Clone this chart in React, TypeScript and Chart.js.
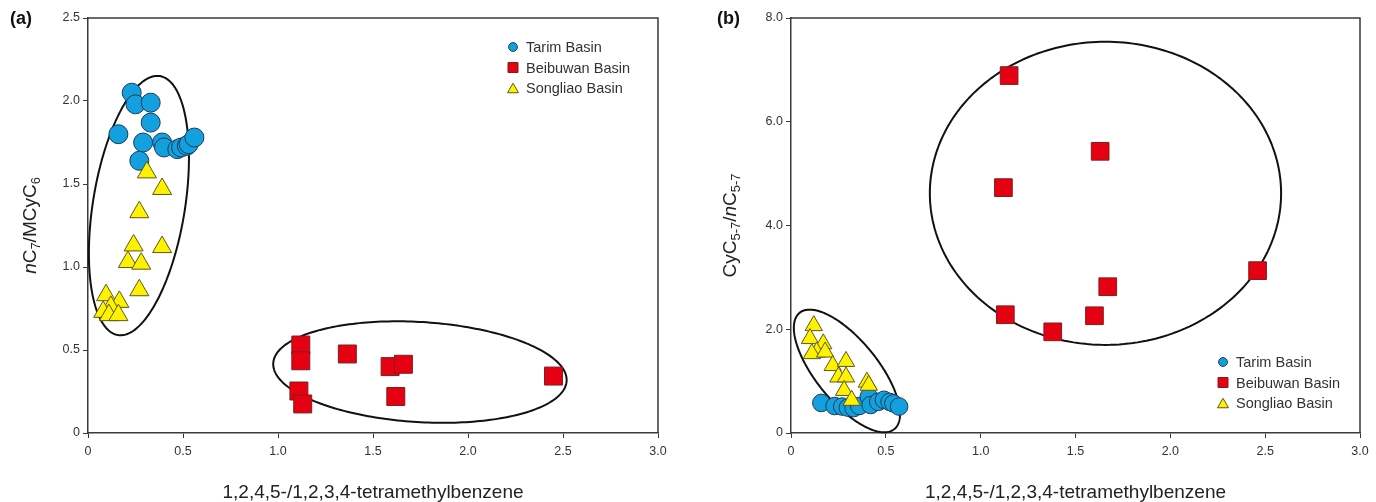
import React, { useEffect, useRef } from "react";
import { Chart, registerables } from "chart.js";

Chart.register(...registerables);

// ---------- data ----------
const seriesNames = ["Tarim Basin", "Beibuwan Basin", "Songliao Basin"];

const xTickValues = [0, 0.5, 1.0, 1.5, 2.0, 2.5, 3.0];
const yTickValuesA = [0, 0.5, 1.0, 1.5, 2.0, 2.5];
const yTickValuesB = [0, 2.0, 4.0, 6.0, 8.0];

const xAxisTitle = "1,2,4,5-/1,2,3,4-tetramethylbenzene";

// panel (a): nC7/MCyC6 vs tetramethylbenzene ratio
const tarimA: number[][] = [
  [0.23, 2.05], [0.25, 1.98], [0.33, 1.99], [0.33, 1.87], [0.16, 1.80],
  [0.29, 1.75], [0.39, 1.75], [0.40, 1.72], [0.27, 1.64], [0.47, 1.71],
  [0.49, 1.72], [0.52, 1.73], [0.53, 1.74], [0.56, 1.78],
];
const beibuwanA: number[][] = [
  [1.12, 0.53], [1.12, 0.435], [1.365, 0.476], [1.59, 0.40], [1.66, 0.414],
  [2.45, 0.343], [1.11, 0.253], [1.13, 0.175], [1.62, 0.22],
];
const songliaoA: number[][] = [
  [0.31, 1.57], [0.39, 1.47], [0.27, 1.33], [0.24, 1.13], [0.39, 1.12],
  [0.21, 1.03], [0.28, 1.02], [0.27, 0.86], [0.095, 0.83], [0.165, 0.79],
  [0.12, 0.76], [0.08, 0.73], [0.11, 0.71], [0.16, 0.71],
];

// panel (b): CyC5-7/nC5-7 vs tetramethylbenzene ratio
const tarimB: number[][] = [
  [0.16, 0.58], [0.23, 0.52], [0.27, 0.51], [0.30, 0.49], [0.33, 0.48],
  [0.36, 0.52], [0.41, 0.70], [0.42, 0.54], [0.46, 0.60], [0.49, 0.64],
  [0.52, 0.60], [0.54, 0.57], [0.57, 0.51],
];
const beibuwanB: number[][] = [
  [1.15, 6.89], [1.63, 5.43], [1.12, 4.73], [2.46, 3.13],
  [1.67, 2.82], [1.13, 2.28], [1.60, 2.26], [1.38, 1.95],
];
const songliaoB: number[][] = [
  [0.12, 2.07], [0.10, 1.82], [0.17, 1.72], [0.135, 1.56], [0.11, 1.53],
  [0.18, 1.56], [0.22, 1.30], [0.29, 1.38], [0.25, 1.08], [0.29, 1.08],
  [0.28, 0.82], [0.40, 0.98], [0.41, 0.92], [0.32, 0.63],
];

// grouping ellipses: centre and two conjugate semi-axis vectors, in data units
const ellipsesA = [
  { c: [0.268, 1.37], u: [0.1105, 0.78], v: [0.239, -0.0443] },
  { c: [1.747, 0.367], u: [0.772, -0.054], v: [-0.016, -0.301] },
];
const ellipsesB = [
  { c: [1.658, 4.62], u: [0.926, 0], v: [0, 2.922] },
  { c: [0.295, 1.196], u: [0.25, -1.12], v: [0.126, 0.378] },
];

// ---------- styles ----------
const FONT = '"Liberation Sans", Arial, Helvetica, sans-serif';
const INK = "#333333";
const AXIS = "#3a3a3a";
const styles = [
  { pointStyle: "circle", bg: "#12A0DE", border: "#1d3b57" },
  { pointStyle: "rect", bg: "#E50012", border: "#7d1f1f" },
  { pointStyle: "triangle", bg: "#FFF100", border: "#5a5a1c" },
];

type Seg = { t: string; italic?: boolean; sub?: boolean };
const yTitleA: Seg[] = [
  { t: "n", italic: true }, { t: "C" }, { t: "7", sub: true },
  { t: "/MCyC" }, { t: "6", sub: true },
];
const yTitleB: Seg[] = [
  { t: "CyC" }, { t: "5-7", sub: true }, { t: "/" },
  { t: "n", italic: true }, { t: "C" }, { t: "5-7", sub: true },
];

const fmt = (v: number) => (v === 0 ? "0" : v.toFixed(1));

type PanelCfg = {
  left: number;
  areaLeft: number;
  areaRight: number;
  yMax: number;
  yTicks: number[];
  series: number[][][];
  radii: number[];
  ellipses: { c: number[]; u: number[]; v: number[] }[];
  legend: [number, number];
  yTitle: Seg[];
  yTitleX: number;
  label: string;
  labelX: number;
};

const W = 688;
const H = 502;
const TOP = 18;
const BOTTOM = 433;

const panels: PanelCfg[] = [
  {
    left: 0, areaLeft: 88, areaRight: 658, yMax: 2.5, yTicks: yTickValuesA,
    series: [tarimA, beibuwanA, songliaoA], radii: [9.5, 12.7, 11],
    ellipses: ellipsesA, legend: [425, 29], yTitle: yTitleA, yTitleX: 36,
    label: "(a)", labelX: 10,
  },
  {
    left: 688, areaLeft: 103, areaRight: 672, yMax: 8, yTicks: yTickValuesB,
    series: [tarimB, beibuwanB, songliaoB], radii: [8.8, 12.5, 10],
    ellipses: ellipsesB, legend: [432, 344], yTitle: yTitleB, yTitleX: 48,
    label: "(b)", labelX: 29,
  },
];

function drawMarker(ctx: CanvasRenderingContext2D, style: string, x: number, y: number) {
  ctx.beginPath();
  if (style === "circle") {
    ctx.arc(x, y, 4.4, 0, Math.PI * 2);
  } else if (style === "rect") {
    ctx.rect(x - 5, y - 5, 10, 10);
  } else {
    const s = 11;
    const h = s * 0.866;
    ctx.moveTo(x, y - h / 2);
    ctx.lineTo(x + s / 2, y + h / 2);
    ctx.lineTo(x - s / 2, y + h / 2);
    ctx.closePath();
  }
  ctx.fill();
  ctx.stroke();
}

function drawRichVertical(ctx: CanvasRenderingContext2D, segs: Seg[], baseX: number, cy: number, size: number) {
  const subSize = size * 0.68;
  const fontOf = (s: Seg) =>
    `${s.italic ? "italic " : ""}${s.sub ? subSize : size}px ${FONT}`;
  let total = 0;
  segs.forEach((s) => {
    ctx.font = fontOf(s);
    total += ctx.measureText(s.t).width;
  });
  ctx.save();
  ctx.translate(baseX, cy);
  ctx.rotate(-Math.PI / 2);
  ctx.textBaseline = "alphabetic";
  ctx.textAlign = "left";
  ctx.fillStyle = "#222";
  let x = -total / 2;
  segs.forEach((s) => {
    ctx.font = fontOf(s);
    ctx.fillText(s.t, x, s.sub ? size * 0.22 : 0);
    x += ctx.measureText(s.t).width;
  });
  ctx.restore();
}

function Panel({ cfg }: { cfg: PanelCfg }) {
  const ref = useRef<HTMLCanvasElement>(null);
  useEffect(() => {
    const canvas = ref.current!;
    const decor = {
      id: "decor",
      beforeDatasetsDraw(chart: any) {
        const ctx = chart.ctx as CanvasRenderingContext2D;
        const xs = chart.scales.x;
        const ys = chart.scales.y;
        ctx.save();
        ctx.strokeStyle = "#111";
        ctx.lineWidth = 2;
        cfg.ellipses.forEach((e) => {
          ctx.beginPath();
          for (let i = 0; i <= 240; i++) {
            const t = (i / 240) * Math.PI * 2;
            const dx = e.c[0] + Math.cos(t) * e.u[0] + Math.sin(t) * e.v[0];
            const dy = e.c[1] + Math.cos(t) * e.u[1] + Math.sin(t) * e.v[1];
            const px = xs.getPixelForValue(dx);
            const py = ys.getPixelForValue(dy);
            if (i === 0) ctx.moveTo(px, py);
            else ctx.lineTo(px, py);
          }
          ctx.closePath();
          ctx.stroke();
        });
        ctx.restore();
      },
      afterDraw(chart: any) {
        const ctx = chart.ctx as CanvasRenderingContext2D;
        const a = chart.chartArea;
        ctx.save();
        // frame
        ctx.strokeStyle = AXIS;
        ctx.lineWidth = 1.5;
        ctx.beginPath();
        ctx.moveTo(a.left, a.top);
        ctx.lineTo(a.right, a.top);
        ctx.lineTo(a.right, a.bottom);
        ctx.stroke();
        // legend
        const [lx, ly] = cfg.legend;
        chart.data.datasets.forEach((ds: any, i: number) => {
          const y = a.top + ly + i * 20.5;
          const x = a.left + lx;
          ctx.fillStyle = ds.backgroundColor;
          ctx.strokeStyle = ds.borderColor;
          ctx.lineWidth = 1;
          drawMarker(ctx, ds.pointStyle, x, y);
          ctx.fillStyle = INK;
          ctx.font = `14.5px ${FONT}`;
          ctx.textBaseline = "middle";
          ctx.textAlign = "left";
          ctx.fillText(ds.label, x + 13, y + 1);
        });
        // x title
        ctx.fillStyle = "#222";
        ctx.font = `19px ${FONT}`;
        ctx.textAlign = "center";
        ctx.textBaseline = "alphabetic";
        ctx.fillText(xAxisTitle, (a.left + a.right) / 2, 498);
        // y title
        drawRichVertical(ctx, cfg.yTitle, cfg.yTitleX, (a.top + a.bottom) / 2, 19);
        // panel label
        ctx.fillStyle = "#111";
        ctx.font = `bold 18px ${FONT}`;
        ctx.textAlign = "left";
        ctx.textBaseline = "middle";
        ctx.fillText(cfg.label, cfg.labelX, 19);
        ctx.restore();
      },
    };

    const datasets = seriesNames.map((name, i) => ({
      label: name,
      data: cfg.series[i].map((p) => ({ x: p[0], y: p[1] })),
      pointStyle: styles[i].pointStyle,
      backgroundColor: styles[i].bg,
      borderColor: styles[i].border,
      pointBackgroundColor: styles[i].bg,
      pointBorderColor: styles[i].border,
      pointBorderWidth: 1,
      pointRadius: cfg.radii[i],
      showLine: false,
      order: 3 - i,
    }));

    const axisCommon = {
      type: "linear" as const,
      grid: {
        display: true,
        drawOnChartArea: false,
        drawTicks: true,
        tickLength: 5,
        color: AXIS,
        lineWidth: 1,
      },
      border: { display: true, color: AXIS, width: 1.5 },
    };

    const chart = new Chart(canvas, {
      type: "scatter",
      data: { datasets: datasets as any },
      plugins: [decor],
      options: {
        responsive: false,
        animation: false,
        events: [],
        layout: {
          padding: { left: 0, top: TOP, right: W - cfg.areaRight, bottom: 0 },
        },
        plugins: {
          legend: { display: false },
          tooltip: { enabled: false },
        },
        scales: {
          x: {
            ...axisCommon,
            position: "bottom",
            min: 0,
            max: 3,
            afterBuildTicks: (s: any) => {
              s.ticks = xTickValues.map((v) => ({ value: v }));
            },
            afterFit: (s: any) => {
              s.height = H - BOTTOM;
              s.paddingLeft = 0;
              s.paddingRight = 0;
            },
            ticks: {
              padding: 6,
              color: INK,
              font: { family: FONT, size: 12.5 },
              callback: (v: any) => fmt(Number(v)),
              maxRotation: 0,
              autoSkip: false,
            },
          },
          y: {
            ...axisCommon,
            position: "left",
            min: 0,
            max: cfg.yMax,
            afterBuildTicks: (s: any) => {
              s.ticks = cfg.yTicks.map((v) => ({ value: v }));
            },
            afterFit: (s: any) => {
              s.width = cfg.areaLeft;
              s.paddingTop = 0;
              s.paddingBottom = 0;
            },
            ticks: {
              padding: 3,
              color: INK,
              font: { family: FONT, size: 12.5 },
              callback: (v: any) => fmt(Number(v)),
              autoSkip: false,
            },
          },
        },
      } as any,
    });
    return () => chart.destroy();
  }, [cfg]);
  return (
    <canvas
      ref={ref}
      width={W}
      height={H}
      style={{ position: "absolute", left: cfg.left, top: 0, width: W, height: H }}
    />
  );
}

export default function App() {
  return (
    <div
      style={{
        position: "fixed",
        left: 0,
        top: 0,
        width: 1376,
        height: 502,
        background: "#ffffff",
        overflow: "hidden",
      }}
    >
      {panels.map((p) => (
        <Panel key={p.label} cfg={p} />
      ))}
    </div>
  );
}
